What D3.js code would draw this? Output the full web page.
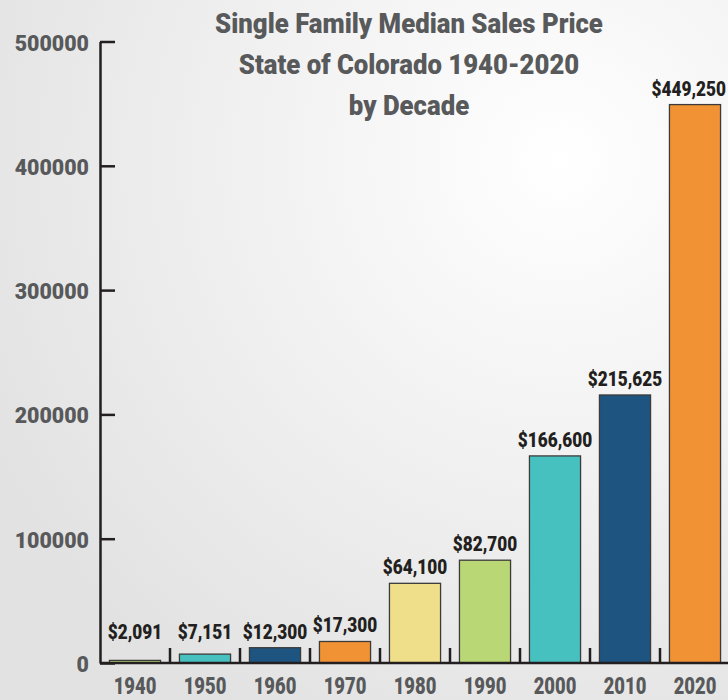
<!DOCTYPE html>
<html lang="en">
<head>
  <meta charset="UTF-8">
  <title>Single Family Median Sales Price</title>
  <script src="https://d3js.org/d3.v7.min.js"></script>
  <style>
    body { margin: 0; background: #fff; }
    text { font-family: Roboto, "Liberation Sans", sans-serif; font-weight: 900; }
  </style>
</head>
<body>
  <div id="chart"></div>

  <script>
    // data
    const decades = ["1940", "1950", "1960", "1970", "1980", "1990", "2000", "2010", "2020"];
    const prices = [2091, 7151, 12300, 17300, 64100, 82700, 166600, 215625, 449250];
    const barColors = ["#b9d774", "#46c1c0", "#1e5480", "#f19334", "#f0df8a", "#b9d774", "#46c1c0", "#1e5480", "#f19334"];
    const yTicks = [0, 100000, 200000, 300000, 400000, 500000];
    const titleLines = ["Single Family Median Sales Price", "State of Colorado 1940-2020", "by Decade"];

    const W = 728, H = 700;
    const dataset = decades.map((d, i) => ({ decade: d, price: prices[i], color: barColors[i] }));

    const svg = d3.select("#chart")
      .append("svg")
      .attr("width", W)
      .attr("height", H);

    // soft grey background, lighter towards the upper right
    const grad = svg.append("defs").append("radialGradient")
      .attr("id", "bg")
      .attr("gradientUnits", "userSpaceOnUse")
      .attr("cx", 560).attr("cy", 160).attr("r", 640);
    grad.append("stop").attr("offset", "0%").attr("stop-color", "#ffffff");
    grad.append("stop").attr("offset", "100%").attr("stop-color", "#e2e2e2");
    svg.append("rect").attr("width", W).attr("height", H).attr("fill", "url(#bg)");

    const x = d3.scaleBand()
      .domain(decades)
      .range([100, 730])
      .paddingInner(0.27)
      .paddingOuter(0.135);

    const y = d3.scaleLinear()
      .domain([0, 500000])
      .range([663, 41.5]);

    // condensed look: scale text horizontally
    function label(sel, px, py, str, size, sx, color, anchor) {
      return sel.append("text")
        .attr("transform", `translate(${px},${py}) scale(${sx},1)`)
        .attr("text-anchor", anchor || "middle")
        .attr("font-size", size)
        .attr("fill", color)
        .text(str);
    }

    // title
    titleLines.forEach((t, i) => {
      label(svg, 409, 33 + i * 41, t, 28, 0.92, "#58595b");
    });

    // y axis
    const yAxis = svg.append("g")
      .attr("transform", "translate(100,0)")
      .call(d3.axisLeft(y).tickValues(yTicks).tickSizeInner(-15).tickSizeOuter(0).tickFormat(""));
    yAxis.select(".domain").attr("stroke", "#231f20").attr("stroke-width", 2.5);
    yAxis.selectAll(".tick line").attr("stroke", "#231f20").attr("stroke-width", 2.5);
    yTicks.forEach(v => {
      label(svg, 89, y(v) + 9, String(v), 22.5, 0.95, "#58595b", "end");
    });

    // bars
    svg.selectAll(".bar")
      .data(dataset)
      .enter()
      .append("rect")
      .attr("class", "bar")
      .attr("x", d => x(d.decade))
      .attr("y", d => y(d.price))
      .attr("width", x.bandwidth())
      .attr("height", d => y(0) - y(d.price))
      .attr("fill", d => d.color)
      .attr("stroke", "#3d3b3a")
      .attr("stroke-width", 1.3);

    // x axis line and the ticks between bars
    const step = x.step();
    const edge = step * x.paddingInner() / 2;
    svg.append("line")
      .attr("x1", 100).attr("x2", W)
      .attr("y1", y(0)).attr("y2", y(0))
      .attr("stroke", "#231f20").attr("stroke-width", 2.5);
    svg.selectAll(".xtick")
      .data(decades)
      .enter()
      .append("line")
      .attr("class", "xtick")
      .attr("x1", d => x(d) - edge + step)
      .attr("x2", d => x(d) - edge + step)
      .attr("y1", y(0))
      .attr("y2", y(0) - 15)
      .attr("stroke", "#231f20").attr("stroke-width", 2.5);

    // year labels
    dataset.forEach(d => {
      label(svg, x(d.decade) + x.bandwidth() / 2, 694, d.decade, 23, 0.8, "#58595b");
    });

    // value labels, kept inside the right edge
    dataset.forEach(d => {
      const ty = Math.min(y(d.price) - 9, 639);
      const sx = 0.82;
      let cx = x(d.decade) + x.bandwidth() / 2;
      const t = label(svg, cx, ty, "$" + d3.format(",")(d.price), 21, sx, "#231f20");
      const half = t.node().getComputedTextLength() * sx / 2;
      if (cx + half > W - 2) {
        cx = W - 2 - half;
        t.attr("transform", `translate(${cx},${ty}) scale(${sx},1)`);
      }
    });
  </script>
</body>
</html>
